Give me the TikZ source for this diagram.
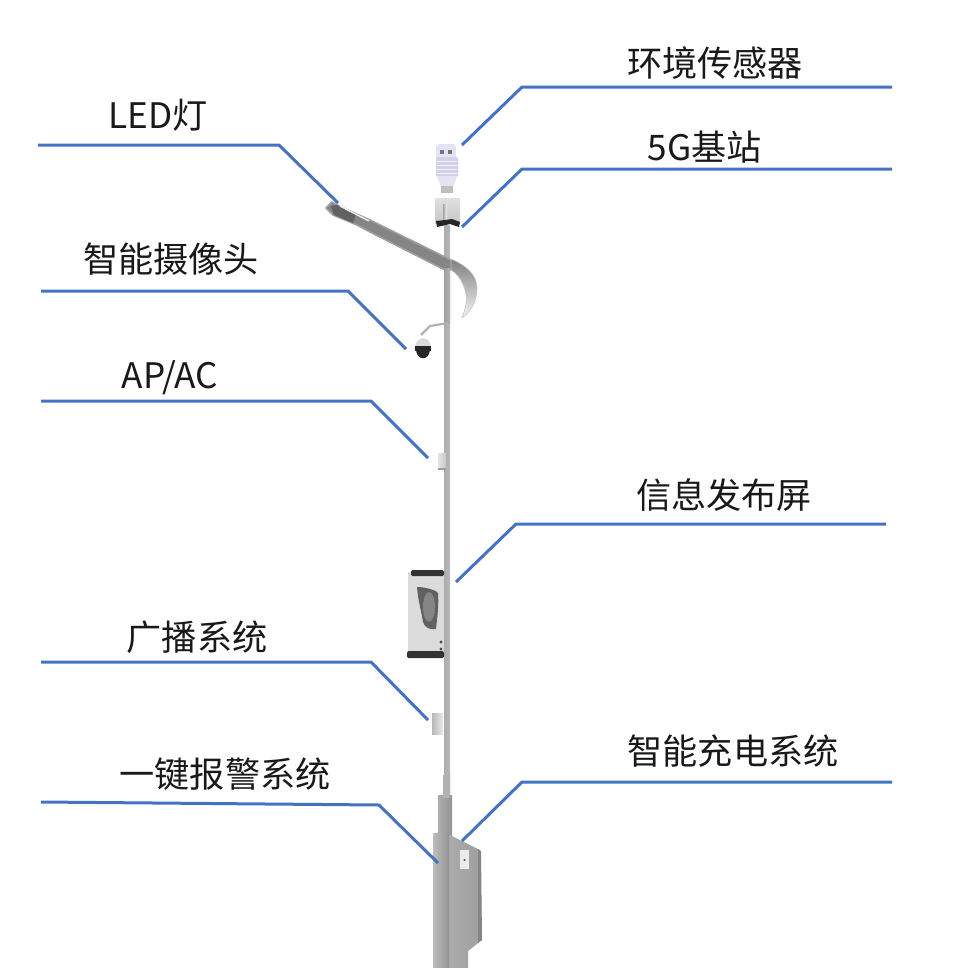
\documentclass[tikz,border=0pt]{standalone}
\usepackage{fontspec}
\setmainfont{Noto Sans CJK SC}
\definecolor{leader}{HTML}{4472C4}
\definecolor{lavender}{HTML}{E4E3F3}
\definecolor{lavenderdark}{HTML}{D2D1E6}
\tikzset{
  x=1bp,y=-1bp,
  leaderline/.style={draw=leader,line width=3bp,line join=round},
  caption/.style={inner sep=0pt,text=black!90,font=\fontsize{35.3}{40}\selectfont},
}
\begin{document}
\begin{tikzpicture}
\useasboundingbox (0,0) rectangle (964,968);
\fill[white] (0,0) rectangle (964,968);

% slim upper mast and thicker lower section
\shade[left color=black!32,middle color=black!3,right color=black!28] (444,225) rectangle (450,800);
\shade[left color=black!32,middle color=black!10,right color=black!42] (438,795) rectangle (452,835);
\shade[left color=black!30,middle color=black!6,right color=black!30] (443,775) rectangle (450,797);

% base cabinet
\shade[left color=black!32,right color=black!38] (450,835) -- (480,850) -- (482,940) -- (468,951) -- (468,968) -- (445,968) -- (445,835) -- cycle;
\shade[left color=black!26,right color=black!42] (433,833) -- (449,832) -- (449,968) -- (433,968) -- cycle;
\fill[black!48] (478,849) -- (481,851) -- (482,940) -- (478,943) -- cycle;
\fill[black!8] (460,850) rectangle (469,869);
\fill[black!70] (464.5,860) circle (1.2);

% lamp head and arm, passing in front of the mast
\filldraw[fill=black!48,draw=black!38,line width=1.6bp,line join=round]
  (326,208) -- (332,202) -- (337,205) -- (370,220) -- (453,261) -- (452,270) -- (443,269)
  -- (370,232) -- (357,225) -- (333,215) -- cycle;
\fill[black!62] (331,206) -- (337,205) -- (356,214) -- (353,223) -- (334,215) -- cycle;
\draw[black!6,line width=1.4bp] (340,206) -- (369,221);
\shade[shading angle=135,top color=black!50,bottom color=black!4,draw=black!22,line width=.6bp]
  (451,259) .. controls (465,265) and (477,274) .. (477,288)
  .. controls (477,303) and (470,312) .. (462,318)
  .. controls (466,308) and (467,300) .. (466,294)
  .. controls (464,284) and (459,275) .. (451,270) -- cycle;
\shade[left color=black!38,middle color=black!5,right color=black!30] (444,268) rectangle (450,323);

% sensor housing and mount box
\fill[lavender,rounded corners=3bp] (436,144) rectangle (456,159);
\fill[lavenderdark,rounded corners=2bp] (436,157) rectangle (458,177);
\foreach \yy in {161,165,169,173}{\draw[lavender!50,line width=1bp] (437,\yy) -- (457,\yy);}
\fill[lavender] (437,176) -- (457,176) -- (453,187) -- (441,187) -- cycle;
\fill[black!25] (441,186) rectangle (453,193);
\fill[black!55] (440,150) rectangle (444,154);
\fill[black!55] (448,150) rectangle (452,154);
\shade[top color=black!12,bottom color=black!22] (435,198) rectangle (460,223);
\shade[left color=black!35,right color=black!4] (443,204) rectangle (447,222);
\fill[black!85] (436,221) -- (445,220) -- (452,219) -- (460,222) -- (459,227) -- (450,224) -- (437,227) -- cycle;

% camera arm and dome
\draw[black!30,line width=2.2bp] (448,323) -- (430,326) -- (421,335);
\fill[black!14] (415,348) .. controls (415,335) and (431,335) .. (431,348) -- cycle;
\fill[black!85] (415,346) rectangle (431,351);
\fill[black!85] (416,350) .. controls (417,361) and (429,361) .. (430,350) -- cycle;

% access point box
\shade[left color=black!10,right color=black!22] (438,453) rectangle (446,468);
\fill[black!38] (438,468) rectangle (446,470);

% information screen
\fill[black!14] (408,572) rectangle (444,656);
\fill[black!80,rounded corners=1.5bp] (411,570) rectangle (444,576);
\fill[black!80,rounded corners=1.5bp] (407,651) rectangle (444,658);
\fill[black!62] (417,587) .. controls (425,587) and (436,590) .. (438,593)
  .. controls (439,605) and (437,620) .. (436,629)
  .. controls (430,630) and (425,628) .. (423,622)
  .. controls (421,610) and (418,600) .. (417,587) -- cycle;
\fill[black!48] (429,607) ellipse (6 and 15);
\fill[black!70] (441,642) circle (1.7);
\fill[black!70] (441,649) circle (1.7);

% loudspeaker box
\shade[left color=black!28,right color=black!8] (432,713) rectangle (443,734);

% callout texts
\node[caption] (tenv)   at (715,63)  {环境传感器};
\node[caption] (tbase)  at (705,147) {5G基站};
\node[caption] (tled)   at (158,115) {LED灯};
\node[caption] (tcam)   at (171,259) {智能摄像头};
\node[caption] (tap)    at (170,378) {AP/AC};
\node[caption] (tinfo)  at (724,495) {信息发布屏};
\node[caption] (tcast)  at (197,637) {广播系统};
\node[caption] (tsos)   at (225,774) {一键报警系统};
\node[caption] (tchg)   at (733,751) {智能充电系统};

% leader lines: free end, elbow, end at the device
\coordinate (led0) at (38,145);   \coordinate (led1) at (279,145);  \coordinate (led2) at (338,203);
\coordinate (env0) at (892,87);   \coordinate (env1) at (522,87);   \coordinate (env2) at (462,145);
\coordinate (bs0)  at (892,169);  \coordinate (bs1)  at (522,169);  \coordinate (bs2)  at (462,227);
\coordinate (cam0) at (41,291);   \coordinate (cam1) at (348,291);  \coordinate (cam2) at (406,349);
\coordinate (ap0)  at (41,401);   \coordinate (ap1)  at (371,401);  \coordinate (ap2)  at (428,458);
\coordinate (inf0) at (886,524);  \coordinate (inf1) at (516,524);  \coordinate (inf2) at (456,582);
\coordinate (bc0)  at (41,662);   \coordinate (bc1)  at (371,662);  \coordinate (bc2)  at (428,720);
\coordinate (sos0) at (41,802);   \coordinate (sos1) at (379,805);  \coordinate (sos2) at (438,863);
\coordinate (chg0) at (892,782);  \coordinate (chg1) at (522,782);  \coordinate (chg2) at (462,841);
\draw[leaderline] (led0) -- (led1) -- (led2);
\draw[leaderline] (env0) -- (env1) -- (env2);
\draw[leaderline] (bs0) -- (bs1) -- (bs2);
\draw[leaderline] (cam0) -- (cam1) -- (cam2);
\draw[leaderline] (ap0) -- (ap1) -- (ap2);
\draw[leaderline] (inf0) -- (inf1) -- (inf2);
\draw[leaderline] (bc0) -- (bc1) -- (bc2);
\draw[leaderline] (sos0) -- (sos1) -- (sos2);
\draw[leaderline] (chg0) -- (chg1) -- (chg2);
\end{tikzpicture}
\end{document}
